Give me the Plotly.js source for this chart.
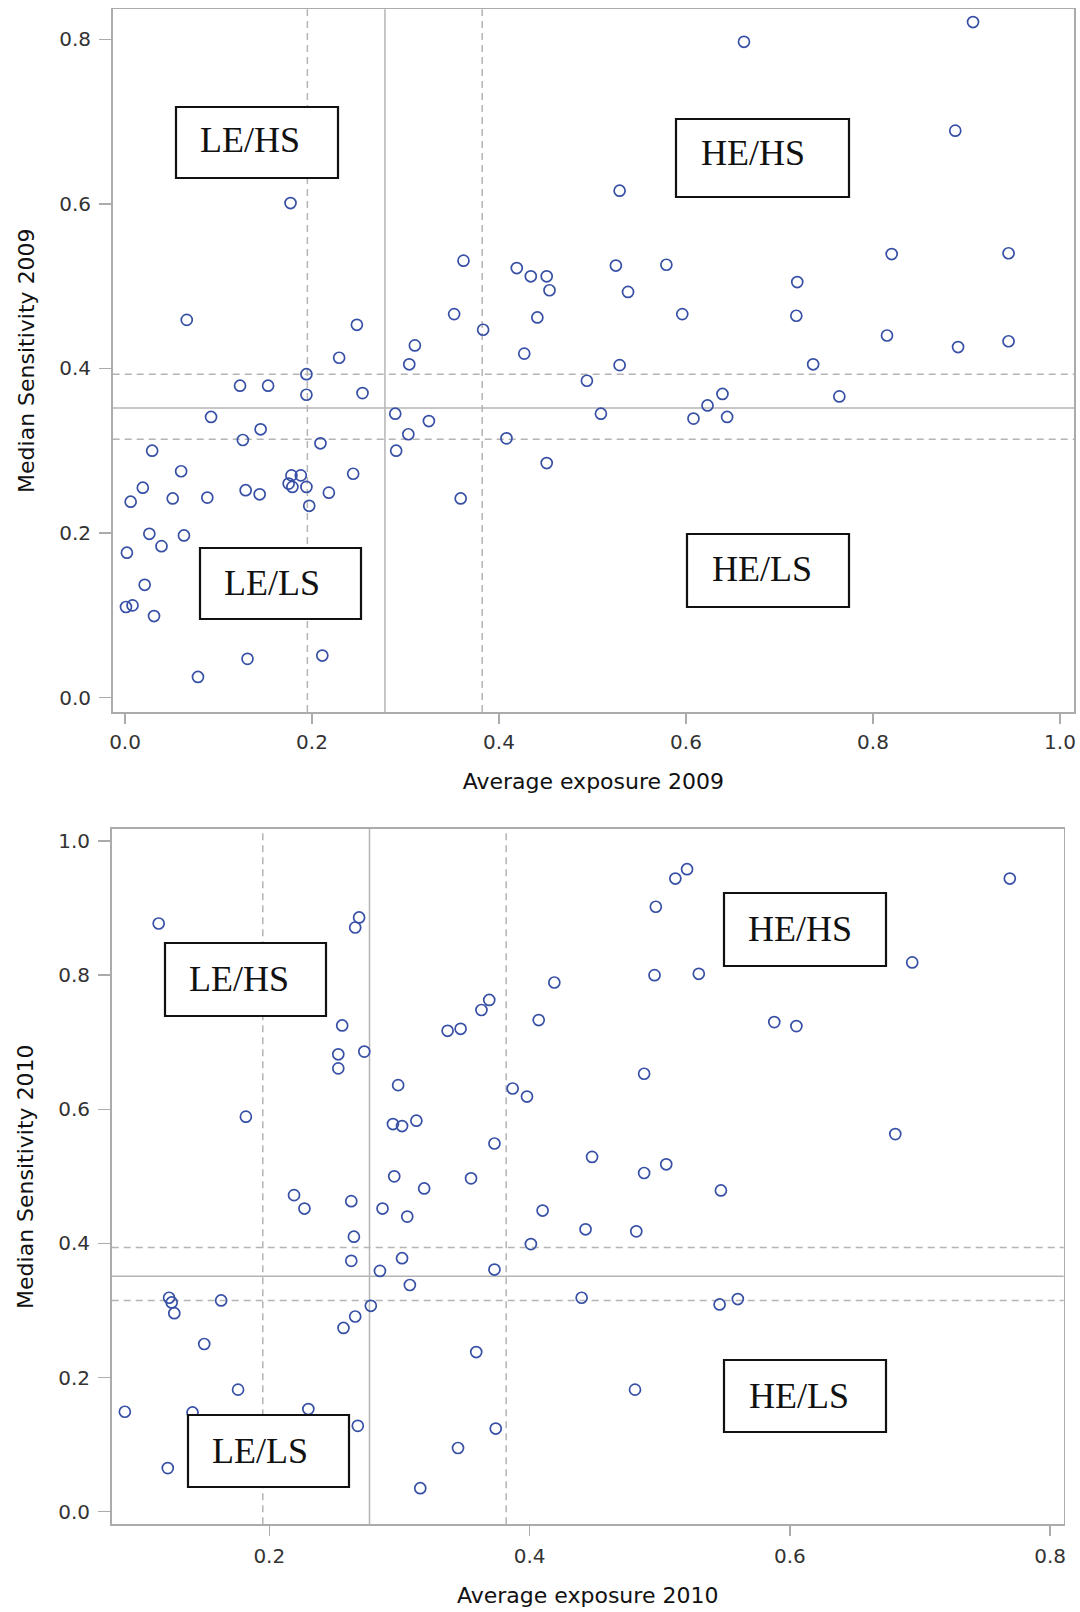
<!DOCTYPE html>
<html>
<head>
<meta charset="utf-8">
<script src="https://cdn.plot.ly/plotly-3.0.1.min.js"></script>
<style>
html, body { margin: 0; padding: 0; background: #fff; }
#chart { width: 1080px; height: 1612px; }
</style>
</head>
<body>
<div id="chart"></div>
<script>
// ---------- data ----------
const exposure2009 = [0.907,0.662,0.888,0.529,0.177,0.820,0.945,0.362,0.419,0.434,
  0.451,0.454,0.525,0.579,0.538,0.719,0.066,0.248,0.352,0.383,
  0.441,0.596,0.718,0.815,0.891,0.945,0.229,0.310,0.304,0.427,
  0.529,0.736,0.194,0.123,0.153,0.194,0.254,0.494,0.639,0.623,
  0.764,0.289,0.325,0.092,0.145,0.509,0.608,0.644,0.303,0.126,
  0.209,0.408,0.029,0.290,0.060,0.244,0.178,0.188,0.175,0.179,
  0.194,0.019,0.129,0.144,0.218,0.006,0.051,0.088,0.197,0.359,
  0.451,0.026,0.063,0.039,0.002,0.021,0.001,0.008,0.031,0.131,
  0.211,0.078];
const sensitivity2009 = [0.821,0.797,0.689,0.616,0.601,0.539,0.540,0.531,0.522,0.512,
  0.512,0.495,0.525,0.526,0.493,0.505,0.459,0.453,0.466,0.447,
  0.462,0.466,0.464,0.440,0.426,0.433,0.413,0.428,0.405,0.418,
  0.404,0.405,0.393,0.379,0.379,0.368,0.370,0.385,0.369,0.355,
  0.366,0.345,0.336,0.341,0.326,0.345,0.339,0.341,0.320,0.313,
  0.309,0.315,0.300,0.300,0.275,0.272,0.270,0.270,0.260,0.256,
  0.256,0.255,0.252,0.247,0.249,0.238,0.242,0.243,0.233,0.242,
  0.285,0.199,0.197,0.184,0.176,0.137,0.110,0.112,0.099,0.047,
  0.051,0.025];

const exposure2010 = [0.115,0.269,0.266,0.256,0.253,0.253,0.273,0.182,0.299,0.295,
  0.302,0.313,0.337,0.347,0.363,0.369,0.373,0.387,0.398,0.419,
  0.407,0.296,0.355,0.319,0.219,0.227,0.263,0.287,0.306,0.410,
  0.265,0.401,0.263,0.302,0.285,0.373,0.308,0.123,0.125,0.127,
  0.163,0.278,0.266,0.257,0.150,0.359,0.176,0.089,0.141,0.230,
  0.268,0.374,0.345,0.122,0.316,0.521,0.512,0.497,0.769,0.496,
  0.530,0.694,0.588,0.605,0.488,0.681,0.448,0.488,0.505,0.547,
  0.443,0.482,0.440,0.546,0.560,0.481];
const sensitivity2010 = [0.877,0.886,0.871,0.725,0.682,0.661,0.686,0.589,0.636,0.578,
  0.575,0.583,0.717,0.720,0.748,0.763,0.549,0.631,0.619,0.789,
  0.733,0.500,0.497,0.482,0.472,0.452,0.463,0.452,0.440,0.449,
  0.410,0.399,0.374,0.378,0.359,0.361,0.338,0.319,0.312,0.296,
  0.315,0.307,0.291,0.274,0.250,0.238,0.182,0.149,0.148,0.153,
  0.128,0.124,0.095,0.065,0.035,0.958,0.944,0.902,0.944,0.800,
  0.802,0.819,0.730,0.724,0.653,0.563,0.529,0.505,0.518,0.479,
  0.421,0.418,0.319,0.309,0.317,0.182];

// reference lines: [lower dashed, solid, upper dashed]
const xRefLines2009 = [0.195, 0.278, 0.382];
const yRefLines2009 = [0.314, 0.352, 0.393];
const xRefLines2010 = [0.195, 0.277, 0.382];
const yRefLines2010 = [0.315, 0.351, 0.394];

const quadrantLabels = ['LE/HS', 'HE/HS', 'LE/LS', 'HE/LS'];

const xTicks2009 = [0, 0.2, 0.4, 0.6, 0.8, 1.0];
const yTicks2009 = [0, 0.2, 0.4, 0.6, 0.8];
const xTicks2010 = [0.2, 0.4, 0.6, 0.8];
const yTicks2010 = [0, 0.2, 0.4, 0.6, 0.8, 1.0];

const xTitle2009 = 'Average exposure 2009';
const yTitle2009 = 'Median Sensitivity 2009';
const xTitle2010 = 'Average exposure 2010';
const yTitle2010 = 'Median Sensitivity 2010';

// ---------- styling / layout ----------
const W = 1080, H = 1612;
const px = v => v / W;
const py = v => 1 - v / H;

const frameColor = '#ababab';
const refColor = '#b4b4b4';
const markerColor = '#3750a6';
const sansFont = 'DejaVu Sans, Liberation Sans, Arial, sans-serif';
const serifFont = 'Liberation Serif, Times New Roman, serif';

function scatter(xs, ys, xa, ya) {
  return {
    type: 'scatter', mode: 'markers', x: xs, y: ys, xaxis: xa, yaxis: ya,
    marker: { symbol: 'circle-open', size: 11, color: markerColor, line: { width: 1.7, color: markerColor } },
    hoverinfo: 'x+y', showlegend: false
  };
}

function axisBase(extra) {
  return Object.assign({
    showgrid: false, zeroline: false,
    showline: true, mirror: true, linecolor: frameColor, linewidth: 1.6,
    ticks: 'outside', tickcolor: frameColor, tickwidth: 1.4,
    tickfont: { family: sansFont, size: 20, color: '#333' },
    tickformat: '.1f',
    automargin: false
  }, extra);
}

const shapes = [];
function refLines(xVals, yVals, xr, yr) {
  xVals.forEach((v, i) => shapes.push({
    type: 'line', xref: xr, yref: yr + ' domain', x0: v, x1: v, y0: 0, y1: 1, layer: 'below',
    line: { color: refColor, width: 1.5, dash: i === 1 ? 'solid' : '7px,5px' }
  }));
  yVals.forEach((v, i) => shapes.push({
    type: 'line', xref: xr + ' domain', yref: yr, x0: 0, x1: 1, y0: v, y1: v, layer: 'below',
    line: { color: refColor, width: 1.5, dash: i === 1 ? 'solid' : '7px,5px' }
  }));
}
refLines(xRefLines2009, yRefLines2009, 'x', 'y');
refLines(xRefLines2010, yRefLines2010, 'x2', 'y2');

// quadrant label boxes (pixel boxes on the page and text centres)
const boxes = [
  { l: 176, r: 338, t: 107, b: 178, tx: 250, ty: 140, label: quadrantLabels[0] },
  { l: 676, r: 849, t: 119, b: 197, tx: 753, ty: 153, label: quadrantLabels[1] },
  { l: 200, r: 361, t: 548, b: 619, tx: 272, ty: 583, label: quadrantLabels[2] },
  { l: 687, r: 849, t: 534, b: 607, tx: 762, ty: 569, label: quadrantLabels[3] },
  { l: 165, r: 326, t: 943, b: 1016, tx: 239, ty: 979, label: quadrantLabels[0] },
  { l: 724, r: 886, t: 893, b: 966, tx: 800, ty: 929, label: quadrantLabels[1] },
  { l: 188, r: 349, t: 1415, b: 1487, tx: 260, ty: 1451, label: quadrantLabels[2] },
  { l: 724, r: 886, t: 1360, b: 1432, tx: 799, ty: 1396, label: quadrantLabels[3] }
];
const annotations = [];
boxes.forEach(b => {
  shapes.push({
    type: 'rect', xref: 'paper', yref: 'paper', layer: 'above',
    x0: px(b.l), x1: px(b.r), y0: py(b.b), y1: py(b.t),
    fillcolor: '#ffffff', line: { color: '#111', width: 2.2 }
  });
  annotations.push({
    xref: 'paper', yref: 'paper', x: px(b.tx), y: py(b.ty), xanchor: 'center', yanchor: 'middle',
    text: b.label, showarrow: false, font: { family: serifFont, size: 36, color: '#111' }
  });
});

const layout = {
  width: W, height: H,
  margin: { l: 0, r: 0, t: 0, b: 0 },
  paper_bgcolor: '#fff', plot_bgcolor: '#fff',
  showlegend: false,
  xaxis: axisBase({
    domain: [px(112.7), px(1074)], range: [-0.0132, 1.015], anchor: 'y',
    tickvals: xTicks2009, ticklen: 10, ticklabelstandoff: 1,
    title: { text: xTitle2009, font: { family: sansFont, size: 22, color: '#111' }, standoff: 21 }
  }),
  yaxis: axisBase({
    domain: [py(712), py(9.3)], range: [-0.0176, 0.8365], anchor: 'x',
    tickvals: yTicks2009, ticklen: 12, ticklabelstandoff: 4,
    title: { text: yTitle2009, font: { family: sansFont, size: 22, color: '#111' }, standoff: 18 }
  }),
  xaxis2: axisBase({
    domain: [px(111.7), px(1063.7)], range: [0.0789, 0.8104], anchor: 'y2',
    tickvals: xTicks2010, ticklen: 10, ticklabelstandoff: 3,
    title: { text: xTitle2010, font: { family: sansFont, size: 22, color: '#111' }, standoff: 20 }
  }),
  yaxis2: axisBase({
    domain: [py(1524.3), py(829)], range: [-0.0188, 1.0179], anchor: 'x2',
    tickvals: yTicks2010, ticklen: 12, ticklabelstandoff: 4,
    title: { text: yTitle2010, font: { family: sansFont, size: 22, color: '#111' }, standoff: 18 }
  }),
  shapes: shapes,
  annotations: annotations
};

const data = [
  scatter(exposure2009, sensitivity2009, 'x', 'y'),
  scatter(exposure2010, sensitivity2010, 'x2', 'y2')
];

Plotly.newPlot('chart', data, layout, { staticPlot: true, displayModeBar: false });
</script>
</body>
</html>
